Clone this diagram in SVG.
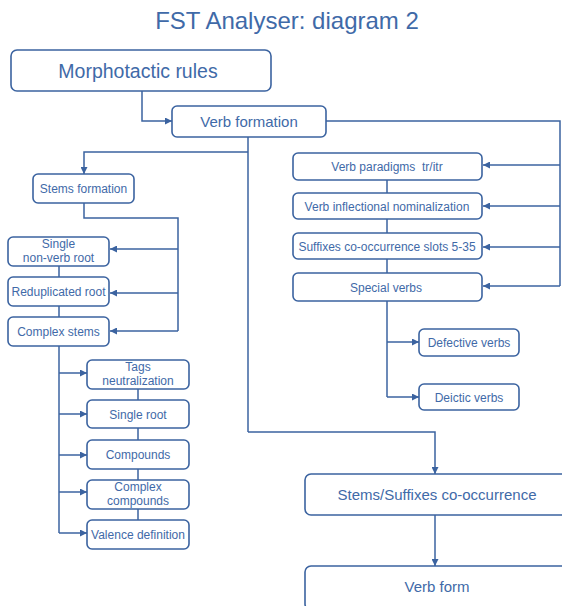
<svg xmlns="http://www.w3.org/2000/svg" width="562" height="606" viewBox="0 0 562 606">
<style>
.b{fill:#fff;stroke:#3b63a0;stroke-width:1.6}
.t{font-family:"Liberation Sans",Arial,sans-serif;fill:#3f6aa8;text-anchor:middle}
.c{fill:none;stroke:#3b63a0;stroke-width:1.5}
.a{marker-end:url(#ah)}
</style>
<defs>
<marker id="ah" viewBox="0 0 10 10" refX="10" refY="5" markerWidth="7" markerHeight="7" markerUnits="userSpaceOnUse" orient="auto">
<path d="M0,0L10,5L0,10z" fill="#3b63a0"/>
</marker>
</defs>
<rect width="562" height="606" fill="#fff"/>
<text class="t" x="287" y="29" font-size="24" fill="#4472a8">FST Analyser: diagram 2</text>
<g id="connectors">
<path class="c a" d="M142,91V121H172"/>
<path class="c" d="M326,121H560V286"/>
<path class="c a" d="M560,165H483"/>
<path class="c a" d="M560,206H483"/>
<path class="c a" d="M560,247H483"/>
<path class="c a" d="M560,286H483"/>
<path class="c" d="M387,180V193M387,219V233M387,259V273"/>
<path class="c" d="M387,301V397"/>
<path class="c a" d="M387,342H419"/>
<path class="c a" d="M387,397H419"/>
<path class="c" d="M248,137V432"/>
<path class="c a" d="M248,152H84V174"/>
<path class="c a" d="M248,432H435V474"/>
<path class="c a" d="M435,515V566"/>
<path class="c" d="M84,203V218H178V331"/>
<path class="c a" d="M178,249H110"/>
<path class="c a" d="M178,293H110"/>
<path class="c a" d="M178,331H110"/>
<path class="c" d="M59,266V277M59,306V317"/>
<path class="c" d="M59,346V533"/>
<path class="c a" d="M59,373H87"/>
<path class="c a" d="M59,414H87"/>
<path class="c a" d="M59,455H87"/>
<path class="c a" d="M59,492H87"/>
<path class="c a" d="M59,533H87"/>
<path class="c" d="M138,389V400M138,428V440M138,469V480M138,509V520"/>
</g>
<g id="morphotactic"><rect class="b" x="11" y="50" width="260" height="41" rx="6"/><text class="t" x="138" y="77.5" font-size="19.5">Morphotactic rules</text></g>
<g id="verbformation"><rect class="b" x="172" y="106" width="154" height="31" rx="5"/><text class="t" x="249" y="127" font-size="15">Verb formation</text></g>
<g id="stemsformation"><rect class="b" x="33" y="174" width="101" height="29" rx="5"/><text class="t" x="83.5" y="193" font-size="12">Stems formation</text></g>
<g id="singlenonverb"><rect class="b" x="8" y="237" width="101" height="29" rx="5"/><text class="t" x="58.5" y="248" font-size="12">Single</text><text class="t" x="58.5" y="262" font-size="12">non-verb root</text></g>
<g id="reduplicated"><rect class="b" x="8" y="277" width="101" height="29" rx="5"/><text class="t" x="58.5" y="296" font-size="12">Reduplicated root</text></g>
<g id="complexstems"><rect class="b" x="8" y="317" width="101" height="29" rx="5"/><text class="t" x="58.5" y="336" font-size="12">Complex stems</text></g>
<g id="tags"><rect class="b" x="87" y="360" width="102" height="29" rx="5"/><text class="t" x="138" y="371" font-size="12">Tags</text><text class="t" x="138" y="385" font-size="12">neutralization</text></g>
<g id="singleroot"><rect class="b" x="87" y="400" width="102" height="28" rx="5"/><text class="t" x="138" y="419" font-size="12">Single root</text></g>
<g id="compounds"><rect class="b" x="87" y="440" width="102" height="29" rx="5"/><text class="t" x="138" y="459" font-size="12">Compounds</text></g>
<g id="complexcompounds"><rect class="b" x="87" y="480" width="102" height="29" rx="5"/><text class="t" x="138" y="491" font-size="12">Complex</text><text class="t" x="138" y="505" font-size="12">compounds</text></g>
<g id="valence"><rect class="b" x="87" y="520" width="102" height="29" rx="5"/><text class="t" x="138" y="539" font-size="12">Valence definition</text></g>
<g id="paradigms"><rect class="b" x="293" y="153" width="189" height="27" rx="5"/><text class="t" x="387" y="171" font-size="12">Verb paradigms&#160; tr/itr</text></g>
<g id="inflectional"><rect class="b" x="293" y="193" width="189" height="26" rx="5"/><text class="t" x="387" y="210.5" font-size="12">Verb inflectional nominalization</text></g>
<g id="suffixslots"><rect class="b" x="293" y="233" width="189" height="26" rx="5"/><text class="t" x="387" y="250.5" font-size="12">Suffixes co-occurrence slots 5-35</text></g>
<g id="special"><rect class="b" x="293" y="273" width="189" height="28" rx="5"/><text class="t" x="386" y="291.5" font-size="12">Special verbs</text></g>
<g id="defective"><rect class="b" x="419" y="329" width="100" height="27" rx="5"/><text class="t" x="469" y="347" font-size="12">Defective verbs</text></g>
<g id="deictic"><rect class="b" x="419" y="384" width="100" height="26" rx="5"/><text class="t" x="469" y="401.5" font-size="12">Deictic verbs</text></g>
<g id="stemssuffixes"><rect class="b" x="305" y="474" width="264" height="41" rx="6"/><text class="t" x="437" y="500" font-size="15">Stems/Suffixes co-occurrence</text></g>
<g id="verbform"><rect class="b" x="305" y="566" width="264" height="44" rx="6"/><text class="t" x="437" y="592" font-size="15">Verb form</text></g>
</svg>
